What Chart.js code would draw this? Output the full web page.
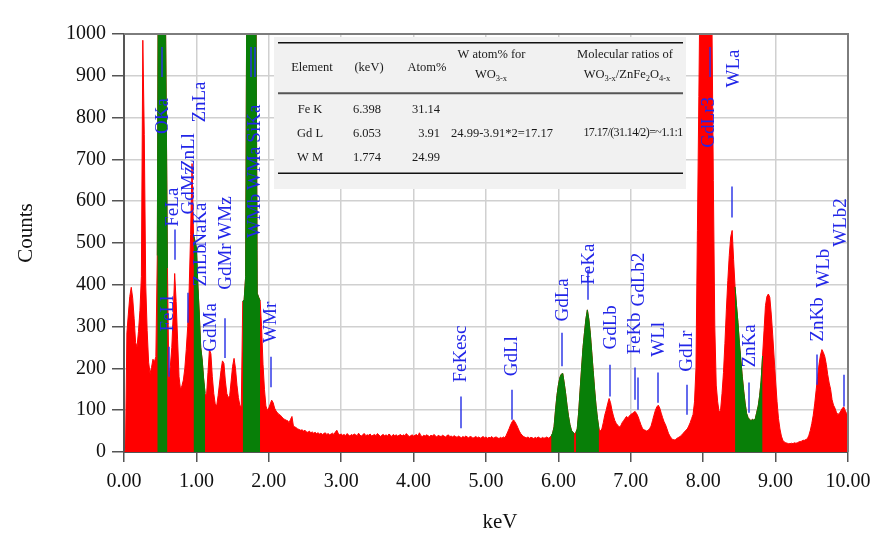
<!DOCTYPE html>
<html>
<head>
<meta charset="utf-8">
<script src="https://cdn.jsdelivr.net/npm/chart.js@4.4.1/dist/chart.umd.min.js"></script>
<style>
  html, body { margin: 0; padding: 0; background: #ffffff; }
  #wrap { width: 881px; height: 540px; }
</style>
</head>
<body>
<div id="wrap"><canvas id="eds" width="881" height="540"></canvas></div>
<script>
// EDS spectrum: one count value per 0.02 keV channel, 0.00 to 10.00 keV
const channelStep = 0.02;
const counts = [
  0, 0, 285, 330, 372, 394, 368, 320, 262, 252,
  288, 338, 420, 985, 760, 400, 290, 215, 188, 202,
  222, 216, 228, 470, 1500, 2600, 3000, 2400, 1300, 900,
  440, 175, 205, 250, 330, 427, 360, 270, 180, 150,
  158, 172, 200, 245, 300, 390, 520, 690, 520, 505,
  488, 400, 330, 250, 220, 175, 140, 135, 190, 245,
  235, 180, 140, 115, 110, 135, 165, 195, 218, 212,
  170, 140, 130, 135, 170, 205, 224, 200, 160, 130,
  112, 108, 360, 365, 420, 1300, 2200, 2900, 3000, 2600,
  1900, 1200, 380, 370, 362, 300, 210, 150, 110, 100,
  105, 115, 124, 118, 105, 98, 94, 90, 88, 84,
  80, 78, 76, 75, 70, 78, 85, 62, 60, 58,
  55, 54, 52, 53, 50, 52, 48, 47, 50, 46,
  48, 45, 47, 44, 46, 43, 45, 42, 44, 46,
  42, 44, 41, 43, 45, 42, 48, 52, 44, 41,
  43, 40, 42, 39, 44, 41, 38, 42, 40, 43,
  41, 39, 45, 40, 38, 42, 44, 39, 41, 40,
  43, 38, 40, 42, 39, 44, 41, 37, 40, 42,
  39, 41, 38, 43, 40, 37, 42, 39, 41, 38,
  40, 42, 38, 41, 39, 44, 40, 37, 39, 41,
  38, 40, 42, 38, 46, 39, 37, 40, 38, 41,
  39, 37, 40, 38, 42, 39, 36, 40, 38, 37,
  40, 38, 36, 39, 41, 37, 38, 36, 39, 37,
  35, 38, 36, 34, 37, 35, 38, 36, 34, 37,
  36, 33, 35, 37, 34, 36, 33, 35, 37, 34,
  36, 33, 35, 34, 37, 33, 35, 36, 34, 32,
  35, 33, 36, 34, 40, 48, 56, 65, 72, 77,
  72, 66, 58, 50, 44, 40, 37, 35, 34, 36,
  33, 35, 34, 32, 35, 33, 36, 34, 32, 35,
  33, 34, 36, 33, 35, 38, 45, 60, 100, 135,
  160, 178, 186, 188, 165, 140, 110, 85, 65, 52,
  47, 44, 46, 55, 95, 148, 200, 250, 285, 318,
  340, 318, 285, 240, 195, 150, 110, 80, 55, 50,
  55, 70, 88, 100, 115, 128, 118, 100, 86, 75,
  68, 64, 60, 62, 70, 75, 80, 85, 82, 86,
  90, 92, 95, 97, 92, 85, 75, 65, 57, 53,
  52, 50, 52, 56, 62, 75, 88, 100, 108, 112,
  105, 93, 82, 72, 65, 55, 45, 38, 33, 30,
  29, 30, 33, 35, 37, 40, 44, 48, 52, 55,
  62, 70, 80, 90, 120, 200, 530, 850, 1200, 1700,
  2300, 2800, 3000, 2800, 2200, 1600, 1050, 650, 300, 160,
  120, 95, 100, 140, 190, 260, 340, 410, 470, 515,
  530, 460, 395, 350, 310, 260, 220, 180, 145, 115,
  92, 82, 78, 75, 78, 76, 80, 95, 110, 135,
  170, 230, 290, 350, 372, 378, 370, 330, 280, 225,
  170, 120, 80, 55, 38, 28, 24, 22, 21, 20,
  20, 21, 20, 22, 21, 22, 24, 25, 26, 28,
  28, 30, 32, 40, 52, 68, 88, 115, 148, 180,
  210, 232, 245, 238, 228, 210, 185, 165, 150, 125,
  112, 105, 95, 90, 92, 98, 104, 108, 100, 92,
  88
];

// keV windows of the integrated (highlighted) peaks
const peakWindows = [
  [0.46, 0.60], [0.96, 1.12], [1.64, 1.88],
  [5.90, 6.22], [6.24, 6.56], [8.44, 8.82]
];

// x-ray line names: [name, keV, counts where the text starts]
const peakLabels = [
  ['OKa', 0.54, 761], ['FeLl', 0.61, 288], ['FeLa', 0.68, 539],
  ['GdMz', 0.90, 568], ['ZnLl', 0.90, 672], ['ZnLa', 1.05, 788],
  ['NaKa', 1.07, 491], ['ZnLb', 1.06, 396], ['GdMa', 1.20, 240],
  ['GdMr', 1.41, 388], ['WMz', 1.41, 508], ['WMb', 1.81, 512],
  ['WMa', 1.81, 627], ['SiKa', 1.81, 740], ['WMr', 2.03, 261],
  ['FeKesc', 4.66, 166], ['GdLl', 5.36, 181], ['GdLa', 6.065, 312],
  ['FeKa', 6.42, 400], ['GdLb', 6.72, 245], ['FeKb', 7.065, 233],
  ['GdLb2', 7.11, 348], ['WLl', 7.39, 228], ['GdLr', 7.77, 192],
  ['GdLr3', 8.08, 728], ['WLa', 8.425, 872], ['ZnKa', 8.645, 202],
  ['ZnKb', 9.58, 264], ['WLb', 9.67, 393], ['WLb2', 9.90, 491]
];

// line markers: [keV, upper counts, lower counts]
const peakMarkers = [
  [0.52, 969, 897], [0.62, 252, 180], [0.70, 532, 460], [0.89, 381, 309],
  [1.394, 320, 225], [1.758, 969, 897], [1.809, 969, 897], [2.03, 228, 155],
  [4.655, 133, 57], [5.36, 149, 77], [6.05, 285, 205], [6.405, 436, 364],
  [6.71, 209, 133], [7.055, 202, 125], [7.10, 178, 101], [7.38, 190, 118],
  [7.78, 161, 89], [8.10, 969, 897], [8.40, 635, 561], [8.63, 166, 94],
  [9.57, 233, 161], [9.945, 185, 109]
];

// quantification table
const tableHeader = ['Element', '(keV)', 'Atom%'];
const tableElements = ['Fe K', 'Gd L', 'W M'];
const tableEnergies = ['6.398', '6.053', '1.774'];
const tableAtomPct = ['31.14', '3.91', '24.99'];
const tungstenCalc = '24.99-3.91*2=17.17';
const ratioCalc = '17.17/(31.14/2)=~1.1:1';

const spectrum = counts.map((c, i) => ({ x: +(i * channelStep).toFixed(2), y: c }));

const RED = '#ff0000';
const GREEN = '#087f08';
const SERIF = '"Liberation Serif", "Times New Roman", serif';

const datasets = [{
  data: spectrum,
  borderColor: RED,
  backgroundColor: RED,
  borderWidth: 1,
  pointRadius: 0,
  fill: 'origin',
  tension: 0,
  order: 2
}];
for (const [a, b] of peakWindows) {
  datasets.push({
    data: spectrum.filter(p => p.x >= a - 1e-6 && p.x <= b + 1e-6),
    borderColor: GREEN,
    backgroundColor: GREEN,
    borderWidth: 1,
    pointRadius: 0,
    fill: 'origin',
    tension: 0,
    order: 1
  });
}

function drawRich(ctx, parts, cx, y, size) {
  const subSize = size * 0.68;
  let w = 0;
  for (const [t, sub] of parts) {
    ctx.font = (sub ? subSize : size) + 'px ' + SERIF;
    w += ctx.measureText(t).width;
  }
  let x = cx - w / 2;
  ctx.textAlign = 'left';
  for (const [t, sub] of parts) {
    ctx.font = (sub ? subSize : size) + 'px ' + SERIF;
    ctx.fillText(t, x, sub ? y + size * 0.28 : y);
    x += ctx.measureText(t).width;
  }
}

function drawTable(ctx, area) {
  const L = area.left, T = area.top;
  const fs = 12.5;
  ctx.save();
  ctx.fillStyle = '#f1f1f1';
  ctx.fillRect(L + 150, T + 3, 412, 152);

  ctx.strokeStyle = '#111';
  ctx.lineWidth = 1.5;
  ctx.beginPath(); ctx.moveTo(L + 154, T + 8.7); ctx.lineTo(L + 559, T + 8.7); ctx.stroke();
  ctx.beginPath(); ctx.moveTo(L + 154, T + 139.3); ctx.lineTo(L + 559, T + 139.3); ctx.stroke();
  ctx.strokeStyle = '#555';
  ctx.lineWidth = 2;
  ctx.beginPath(); ctx.moveTo(L + 154, T + 59.3); ctx.lineTo(L + 559, T + 59.3); ctx.stroke();

  ctx.fillStyle = '#1a1a1a';
  ctx.textBaseline = 'middle';
  ctx.font = fs + 'px ' + SERIF;
  ctx.textAlign = 'center';
  ctx.fillText(tableHeader[0], L + 188, T + 34);
  ctx.fillText(tableHeader[1], L + 245, T + 34);
  ctx.fillText(tableHeader[2], L + 303, T + 34);
  ctx.fillText('W atom% for', L + 367.5, T + 21);
  ctx.fillText('Molecular ratios of', L + 501, T + 21);
  drawRich(ctx, [['WO', 0], ['3-x', 1]], L + 367, T + 41, fs);
  drawRich(ctx, [['WO', 0], ['3-x', 1], ['/ZnFe', 0], ['2', 1], ['O', 0], ['4-x', 1]], L + 503, T + 41, fs);

  ctx.font = fs + 'px ' + SERIF;
  const rowY = [75.3, 99.3, 123.7];
  for (let i = 0; i < 3; i++) {
    ctx.textAlign = 'center';
    ctx.fillText(tableElements[i], L + 186, T + rowY[i]);
    ctx.fillText(tableEnergies[i], L + 243, T + rowY[i]);
    ctx.textAlign = 'right';
    ctx.fillText(tableAtomPct[i], L + 316, T + rowY[i]);
  }
  ctx.textAlign = 'center';
  ctx.fillText(tungstenCalc, L + 378, T + rowY[1]);
  // the ratio column is set a little tighter
  ctx.font = '12px ' + SERIF;
  ctx.letterSpacing = '-0.6px';
  ctx.fillText(ratioCalc, L + 509, T + rowY[1]);
  ctx.letterSpacing = '0px';
  ctx.restore();
}

const edsDecor = {
  id: 'edsDecor',
  afterDatasetsDraw(chart) {
    const { ctx, chartArea: area, scales: { x, y } } = chart;

    drawTable(ctx, area);

    // line markers
    ctx.save();
    ctx.beginPath();
    ctx.rect(area.left, area.top, area.right - area.left, area.bottom - area.top);
    ctx.clip();
    ctx.strokeStyle = 'rgba(40, 50, 230, 0.72)';
    ctx.lineWidth = 2;
    for (const [e, hi, lo] of peakMarkers) {
      const px = Math.round(x.getPixelForValue(e));
      ctx.beginPath();
      ctx.moveTo(px, y.getPixelForValue(hi));
      ctx.lineTo(px, y.getPixelForValue(lo));
      ctx.stroke();
    }
    ctx.restore();

    // line names, written bottom to top
    ctx.save();
    ctx.fillStyle = 'rgb(34, 38, 232)';
    ctx.font = '19px ' + SERIF;
    ctx.textAlign = 'left';
    ctx.textBaseline = 'middle';
    for (const [name, e, c] of peakLabels) {
      ctx.save();
      ctx.translate(x.getPixelForValue(e), y.getPixelForValue(c));
      ctx.rotate(-Math.PI / 2);
      ctx.fillText(name, 0, 0);
      ctx.restore();
    }
    ctx.restore();

    // plot frame (top and right)
    ctx.save();
    ctx.strokeStyle = '#7d7d7d';
    ctx.lineWidth = 2;
    ctx.beginPath();
    ctx.moveTo(area.left, area.top);
    ctx.lineTo(area.right, area.top);
    ctx.lineTo(area.right, area.bottom);
    ctx.stroke();
    ctx.restore();

    // axis titles
    ctx.save();
    ctx.fillStyle = '#111';
    ctx.font = '21px ' + SERIF;
    ctx.textAlign = 'center';
    ctx.textBaseline = 'middle';
    ctx.fillText('keV', area.left + 376, 522);
    ctx.translate(26, area.top + 199);
    ctx.rotate(-Math.PI / 2);
    ctx.fillText('Counts', 0, 0);
    ctx.restore();
  }
};

new Chart(document.getElementById('eds'), {
  type: 'line',
  data: { datasets },
  plugins: [edsDecor],
  options: {
    responsive: false,
    animation: false,
    devicePixelRatio: 1,
    layout: { padding: { left: 0, right: 33, top: 34, bottom: 0 } },
    plugins: { legend: { display: false }, tooltip: { enabled: false } },
    scales: {
      x: {
        type: 'linear',
        min: 0,
        max: 10,
        afterFit(scale) { scale.height = 88; },
        ticks: {
          stepSize: 1,
          padding: 8,
          color: '#111',
          font: { family: SERIF, size: 20 },
          callback: v => Number(v).toFixed(2)
        },
        grid: { color: '#d0d0d0', lineWidth: 1.5, tickLength: 10, tickColor: '#555' },
        border: { color: '#555', width: 2 }
      },
      y: {
        min: 0,
        max: 1000,
        afterFit(scale) { scale.width = 124; },
        ticks: {
          stepSize: 100,
          padding: 6,
          color: '#111',
          font: { family: SERIF, size: 20 },
          callback: v => String(v)
        },
        grid: { color: '#d0d0d0', lineWidth: 1.5, tickLength: 12, tickColor: '#555' },
        border: { color: '#555', width: 2 }
      }
    }
  }
});
</script>
</body>
</html>
